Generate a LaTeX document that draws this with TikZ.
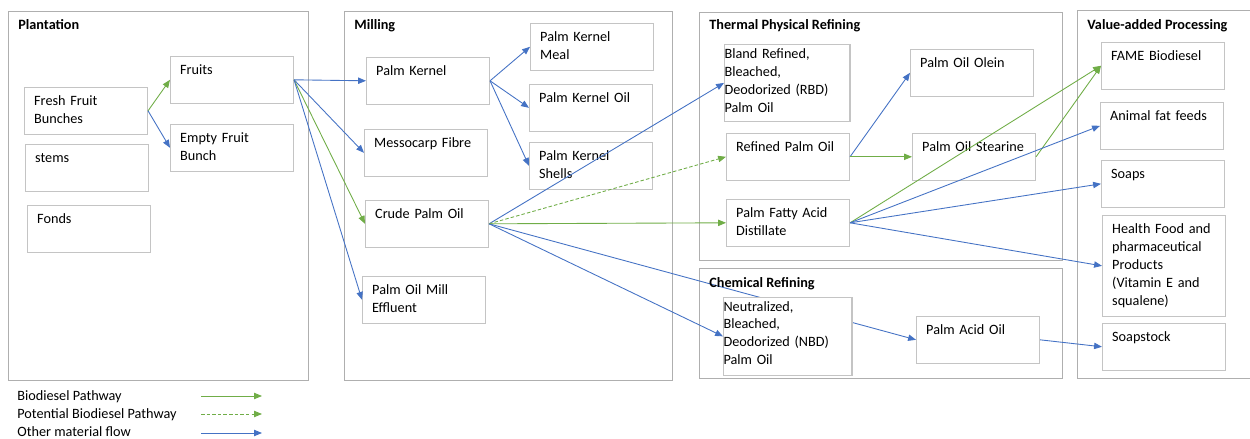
\documentclass[tikz,border=0pt]{standalone}
\usepackage{fontspec}
\setmainfont{Carlito}
\usetikzlibrary{arrows.meta}
\definecolor{biogreen}{HTML}{70AD47}
\definecolor{flowblue}{HTML}{4472C4}
\definecolor{framegray}{HTML}{AFAFAF}
\definecolor{boxgray}{HTML}{C4C4C4}
\pgfdeclarelayer{frames}
\pgfdeclarelayer{under}
\pgfsetlayers{frames,under,main}

\begin{document}
\begin{tikzpicture}[x=0.02cm,y=-0.02cm,font=\fontsize{8.1}{10.2}\selectfont,
  itm/.style={draw=boxgray,line width=0.6pt,fill=white,anchor=north west,align=left,inner xsep=5.5pt,inner ysep=0pt,text width=59pt,text height=10.5pt,text depth=16pt},
  secframe/.style={draw=framegray,line width=0.5pt},
  sec/.style={font=\fontsize{8.1}{10.2}\selectfont\bfseries,anchor=base west,inner sep=0pt},
  bio/.style={-{Triangle[length=4.5pt,width=3.6pt]},draw=biogreen,line width=0.5pt},
  pot/.style={bio,dash pattern=on 2pt off 1.2pt},
  oth/.style={-{Triangle[length=4.5pt,width=3.6pt]},draw=flowblue,line width=0.5pt},
  lab/.style={anchor=base west,inner sep=0pt}]
\useasboundingbox (0,0) rectangle (1250,439);
% section frames
\begin{pgfonlayer}{frames}
\draw[secframe] (8,11) rectangle (308,380);
\draw[secframe] (344,11) rectangle (672,380);
\draw[secframe] (699,12) rectangle (1062,260);
\draw[secframe] (699,268) rectangle (1062,378);
\draw[secframe] (1077,10) rectangle (1262,378);
\end{pgfonlayer}
\node[sec] (tPlant) at (18,30) {Plantation};
\node[sec] (tMill) at (354,30) {Milling};
\node[sec] (tThermal) at (709,30) {Thermal Physical Refining};
\node[sec] (tChem) at (709,287) {Chemical Refining};
\node[sec] (tValue) at (1087,30) {Value-added Processing};
% plantation
\node[itm] (ffb) at (24,87) {Fresh Fruit\\Bunches};
\node[itm] (stems) at (25,144) {stems};
\node[itm] (fonds) at (27,205) {Fonds};
\node[itm] (fruits) at (170,56) {Fruits};
\node[itm] (efb) at (170,124) {Empty Fruit\\Bunch};
% milling
\node[itm] (pk) at (366,57) {Palm Kernel};
\node[itm] (fibre) at (364,129) {Messocarp Fibre};
\node[itm] (cpo) at (365,200) {Crude Palm Oil};
\node[itm] (pome) at (362,276) {Palm Oil Mill\\Effluent};
\node[itm] (pkm) at (530,23) {Palm Kernel\\Meal};
\node[itm] (pko) at (529,84) {Palm Kernel Oil};
\node[itm] (pks) at (529,142) {Palm Kernel\\Shells};
% refining
\node[itm,inner xsep=0pt,text width=71.4pt,text height=8.2pt,text depth=35.5pt] (rbd) at (724,44) {Bland Refined,\\Bleached,\\Deodorized (RBD)\\Palm Oil};
\node[itm] (rpo) at (726,133) {Refined Palm Oil};
\node[itm] (pfad) at (726,199) {Palm Fatty Acid\\Distillate};
\node[itm] (olein) at (910,49) {Palm Oil Olein};
\node[itm] (stearin) at (912,133) {Palm Oil Stearine};
\node[itm,inner xsep=0pt,text width=73.1pt,text height=7.7pt,text depth=36.5pt] (nbd) at (723,297) {Neutralized,\\Bleached,\\Deodorized (NBD)\\Palm Oil};
\node[itm] (pao) at (916,316) {Palm Acid Oil};
% value-added
\node[itm] (fame) at (1101,42) {FAME Biodiesel};
\node[itm] (feed) at (1100,102) {Animal fat feeds};
\node[itm] (soap) at (1101,160) {Soaps};
\node[itm,text depth=46.8pt] (health) at (1102,215) {Health Food and\\pharmaceutical\\Products\\(Vitamin E and\\squalene)};
\node[itm] (stock) at (1102,323) {Soapstock};
% flows
\begin{pgfonlayer}{under}
\draw[oth] (cpo.east) -- (pao.west);
\end{pgfonlayer}
\draw[bio] (ffb.east) -- (fruits.west);
\draw[oth] (ffb.east) -- (efb.west);
\draw[oth] (fruits.east) -- (pk.west);
\draw[oth] (fruits.east) -- (fibre.west);
\draw[bio] (fruits.east) -- (cpo.west);
\draw[oth] (fruits.east) -- (pome.west);
\draw[oth] (pk.east) -- (pkm.west);
\draw[oth] (pk.east) -- (pko.west);
\draw[oth] (pk.east) -- (pks.west);
\draw[oth] (cpo.east) -- (rbd.west);
\draw[pot] (cpo.east) -- (rpo.west);
\draw[bio] (cpo.east) -- (pfad.west);
\draw[oth] (cpo.east) -- (nbd.west);
\draw[oth] (rpo.east) -- (olein.west);
\draw[bio] (rpo.east) -- (stearin.west);
\draw[bio] (pfad.east) -- (fame.west);
\draw[bio] (stearin.east) -- (fame.west);
\draw[oth] (pfad.east) -- (feed.west);
\draw[oth] (pfad.east) -- (soap.west);
\draw[oth] (pfad.east) -- (health.west);
\draw[oth] (pao.east) -- (stock.west);
% legend
\node[lab] (lgBio) at (17,400) {Biodiesel Pathway};
\node[lab] (lgPot) at (17,418) {Potential Biodiesel Pathway};
\node[lab] (lgOth) at (17,436) {Other material flow};
\coordinate (bioS) at (201,396);
\coordinate (bioE) at (262,396);
\coordinate (potS) at (201,414);
\coordinate (potE) at (262,414);
\coordinate (othS) at (201,433);
\coordinate (othE) at (262,433);
\draw[bio] (bioS) -- (bioE);
\draw[pot] (potS) -- (potE);
\draw[oth] (othS) -- (othE);
\end{tikzpicture}
\end{document}
